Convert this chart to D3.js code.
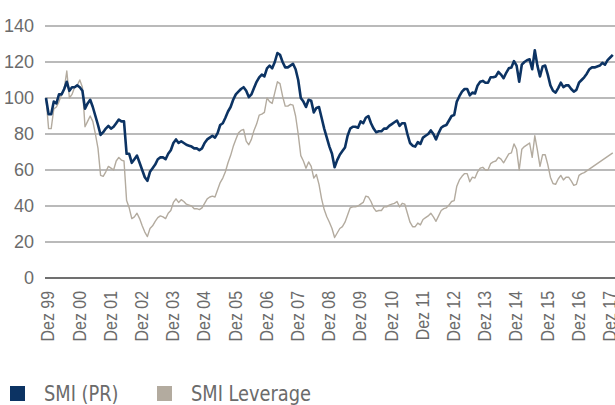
<!DOCTYPE html>
<html>
<head>
<meta charset="utf-8">
<script src="https://cdn.jsdelivr.net/npm/d3@7"></script>
<style>
  body { margin: 0; background: #fff; }
  svg { display: block; font-family: 'Liberation Sans Narrow', 'DejaVu Sans Condensed', 'Liberation Sans', sans-serif; }
</style>
</head>
<body>
<svg width="615" height="405"></svg>
<script>

// monthly values, index 0 = Dez 1999 (= 100)
let smiPR = [
  100, 91, 91, 98, 97, 102, 102, 105, 109, 104,
  106, 106, 107, 106, 104, 94, 97, 99, 95, 90,
  85, 79.5, 81, 83, 84.5, 83, 84, 86, 88, 87,
  87, 69, 69, 64, 66, 68, 64, 60, 56, 54,
  59, 61, 63, 66, 67, 67, 66, 69, 71, 75,
  77, 75, 76, 75, 74, 73.5, 73, 72, 72, 71,
  72, 75, 77, 78, 79, 78, 80.5, 85, 86, 89,
  92.5, 95, 99, 102, 103.5, 105, 106, 104, 100.5, 102,
  105.5, 109, 111.5, 113, 112, 116.5, 118, 116.5, 120, 125,
  124, 120, 117, 117, 118, 119, 116, 110, 100, 98,
  95, 99, 98.5, 92, 94.5, 95, 89, 83, 78, 73,
  69, 61.5, 65.5, 68.5, 70.5, 72.5, 79, 83, 84, 84,
  83.5, 87, 86, 89, 90, 86, 83, 81, 81.5, 81.5,
  83, 83, 84.5, 85.5, 86.5, 87.5, 84.5, 86, 86, 80,
  75, 73.5, 73, 75.5, 74.5, 78, 79, 80, 82, 80,
  77, 80.5, 83.5, 84.5, 85, 87.5, 90, 90.5, 98, 101,
  103.5, 105, 105, 101.5, 103, 102.5, 107, 109, 109.5, 108.5,
  108.5, 111.5, 111.5, 112, 114.5, 113, 111, 114, 116.5, 117,
  120.5, 118, 109, 118.5, 120, 121, 121.5, 116, 126.5, 118,
  112, 117.5, 118, 113, 107, 104, 103, 105.5, 108.5, 106,
  107, 107, 105, 103.5, 104.5, 108.5, 110, 111.5, 113.5, 116,
  117, 117, 117.5, 118, 119.5, 118.5, 121, 122.5, 124
];

let smiLeverage = [
  100, 83, 83, 94, 95, 98, 102, 105, 115, 100,
  102, 106, 107, 110, 106, 84, 87, 90, 87, 80,
  72, 57, 56.5, 59, 62, 61, 60, 65, 67, 65.5,
  65, 43, 39, 33, 34, 36, 33, 29, 25.5, 23,
  27.5, 29, 31.5, 33.5, 34.5, 34, 33, 36, 37.5, 42,
  44, 42, 43.5, 42.5, 41, 40.5, 40, 38.5, 38.5, 38,
  39, 41.5, 44, 45, 45.5, 45, 49, 53, 55.5, 59,
  64, 68, 73, 77, 80.5, 82, 82.5, 76, 74, 77,
  82, 85.5, 90.5, 91, 92, 100, 98, 97, 103, 109,
  108, 101, 95.5, 95.5, 96.5, 96, 90, 80, 68, 65,
  61, 64.5, 62, 55.5, 57.5, 52, 44, 38, 34, 31,
  27.5, 22.5, 25, 27.5, 28.5, 31, 35, 39, 39.5, 39.5,
  40, 41, 42, 45.5, 45, 42.5, 39, 37, 37.5, 37.5,
  39.5, 39.5, 40.5, 41, 41.5, 42.5, 39.5, 41.5, 41, 36,
  31, 28.5, 28.5, 30.5, 29.5, 32.5, 33.5, 34.5, 36, 34,
  31.5, 34.5, 37.5, 38.5, 39, 40.5, 42.5, 43, 51, 54.5,
  56.5, 58, 58, 53.5, 56, 55.5, 59, 61, 61.5, 60,
  60, 63.5, 64.5, 65, 67, 66, 64, 66.5, 69, 69.5,
  74.5, 71.5, 60, 71.5, 73, 74, 75, 67, 79, 71,
  62, 68.5, 68.5, 63, 56, 52.5, 52, 55, 57, 54.5,
  56, 56, 54, 51.5, 52, 57, 58, 58.5, null, null,
  null, null, null, null, null, null, null, null, 69.5
];

let tickLabels = ['Dez 99', 'Dez 00', 'Dez 01', 'Dez 02', 'Dez 03', 'Dez 04',
                  'Dez 05', 'Dez 06', 'Dez 07', 'Dez 08', 'Dez 09', 'Dez 10',
                  'Dez 11', 'Dez 12', 'Dez 13', 'Dez 14', 'Dez 15', 'Dez 16', 'Dez 17'];

let yTicks = [0, 20, 40, 60, 80, 100, 120, 140];

let seriesNames = ['SMI (PR)', 'SMI Leverage'];
let seriesColors = ['#0c3363', '#b3ab9f'];

lineChart();

function lineChart() {

  let svg = d3.select('svg');

  let xScale = d3.scaleLinear()
                 .domain([0, 216])
                 .range([46, 607.6]);

  let yScale = d3.scaleLinear()
                 .domain([0, 140])
                 .range([278, 26]);

  // grid lines
  svg.append('g')
     .attr('id', 'gridG')
     .selectAll('line')
     .data(yTicks.filter(function(d) { return d > 0; }))
     .enter()
     .append('line')
     .attr('x1', 45)
     .attr('x2', 615)
     .attr('y1', function(d) { return yScale(d); })
     .attr('y2', function(d) { return yScale(d); })
     .attr('stroke', '#a3a3a3')
     .attr('stroke-width', 1.5);

  let yAxis = d3.axisLeft(yScale)
                .tickValues(yTicks)
                .tickSize(0)
                .tickPadding(0);

  let yAxisG = svg.append('g')
                  .attr('id', 'yAxisG')
                  .attr('transform', 'translate(34,0)')
                  .call(yAxis);

  yAxisG.select('.domain').remove();
  yAxisG.selectAll('text')
        .attr('fill', '#6b6b6b')
        .attr('font-size', '18px');

  // x axis with rotated labels
  let xAxis = d3.axisBottom(xScale)
                .tickValues(d3.range(0, 217, 12))
                .tickSize(0)
                .tickFormat(function(d, i) { return tickLabels[i]; });

  let xAxisG = svg.append('g')
                  .attr('id', 'xAxisG')
                  .attr('transform', 'translate(0,278)')
                  .call(xAxis);

  xAxisG.select('.domain').remove();
  xAxisG.selectAll('text')
        .attr('fill', '#6b6b6b')
        .attr('font-size', '18.5px')
        .attr('text-anchor', 'end')
        .attr('transform', 'translate(1.5,13) rotate(-90) scale(0.86,1)')
        .attr('x', 0)
        .attr('y', 0)
        .attr('dy', '0.35em');

  svg.append('line')
     .attr('x1', 45)
     .attr('x2', 615)
     .attr('y1', yScale(0))
     .attr('y2', yScale(0))
     .attr('stroke', '#707070')
     .attr('stroke-width', 2);

  let line = d3.line()
               .x(function(d) { return xScale(d.i); })
               .y(function(d) { return yScale(d.v); });

  function points(values) {
    return values.map(function(v, i) { return {i: i, v: v}; })
                 .filter(function(d) { return d.v != null; });
  }

  svg.append('path')
     .attr('id', 'leverageLine')
     .attr('d', line(points(smiLeverage)))
     .attr('fill', 'none')
     .attr('stroke', seriesColors[1])
     .attr('stroke-width', 1.4)
     .attr('stroke-linejoin', 'round');

  svg.append('path')
     .attr('id', 'smiLine')
     .attr('d', line(points(smiPR)))
     .attr('fill', 'none')
     .attr('stroke', seriesColors[0])
     .attr('stroke-width', 2.6)
     .attr('stroke-linejoin', 'round');

  // legend
  let legendX = [10, 157];

  let legend = svg.append('g')
                  .attr('id', 'legendG')
                  .selectAll('g')
                  .data(seriesNames)
                  .enter()
                  .append('g')
                  .attr('transform', function(d, i) {
                    return 'translate(' + legendX[i] + ',386)';
                  });

  legend.append('rect')
        .attr('width', 15)
        .attr('height', 15)
        .attr('fill', function(d, i) { return seriesColors[i]; });

  legend.append('text')
        .attr('transform', 'translate(34,14.5) scale(0.9,1)')
        .attr('font-size', '22px')
        .attr('fill', '#6b6b6b')
        .text(function(d) { return d; });
}

</script>
</body>
</html>
